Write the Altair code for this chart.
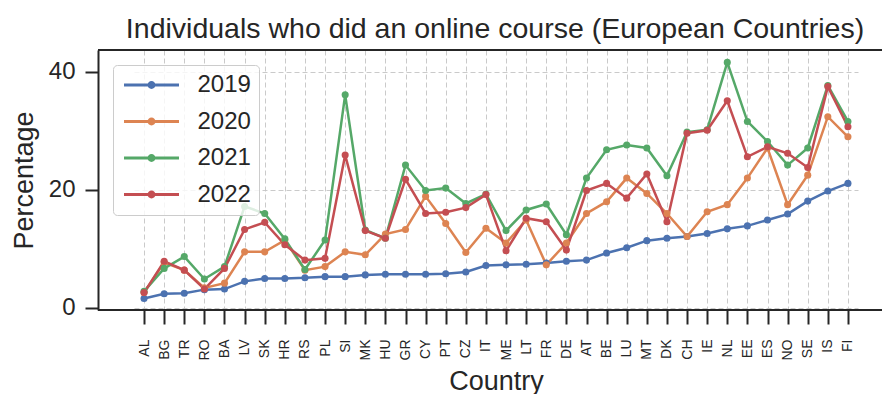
import altair as alt
import pandas as pd

countries = ["AL", "BG", "TR", "RO", "BA", "LV", "SK", "HR", "RS", "PL", "SI", "MK",
             "HU", "GR", "CY", "PT", "CZ", "IT", "ME", "LT", "FR", "DE", "AT", "BE",
             "LU", "MT", "DK", "CH", "IE", "NL", "EE", "ES", "NO", "SE", "IS", "FI"]
years = ["2019", "2020", "2021", "2022"]

v2019 = [1.6, 2.4, 2.5, 3.1, 3.2, 4.5, 5.0, 5.0, 5.1, 5.3, 5.3, 5.6,
         5.7, 5.7, 5.7, 5.8, 6.1, 7.2, 7.3, 7.4, 7.6, 7.9, 8.1, 9.3,
         10.2, 11.4, 11.8, 12.1, 12.6, 13.4, 13.9, 14.9, 15.9, 18.1, 19.8, 21.1]
v2020 = [2.6, 7.7, 6.4, 3.4, 4.2, 9.5, 9.5, 11.5, 6.4, 7.0, 9.5, 9.0,
         12.5, 13.3, 18.9, 14.3, 9.4, 13.5, 11.0, 14.9, 7.3, 11.0, 16.0, 18.0,
         22.0, 19.4, 16.0, 12.1, 16.3, 17.5, 22.0, 27.1, 17.5, 22.5, 32.4, 29.0]
v2021 = [2.8, 6.7, 8.7, 4.9, 7.0, 17.2, 16.0, 11.7, 6.5, 11.5, 36.1, 13.2,
         11.8, 24.2, 19.9, 20.3, 17.7, 19.3, 13.1, 16.6, 17.6, 12.4, 22.0, 26.8,
         27.6, 27.1, 22.4, 29.8, 30.2, 41.6, 31.6, 28.2, 24.2, 27.1, 37.7, 31.6]
v2022 = [2.6, 7.9, 6.4, 3.2, 6.7, 13.3, 14.5, 10.7, 8.1, 8.4, 25.9, 13.1,
         11.8, 21.8, 16.0, 16.2, 17.0, 19.2, 9.7, 15.2, 14.6, 9.8, 19.9, 21.1,
         18.6, 22.7, 14.6, 29.6, 30.1, 35.1, 25.6, 27.3, 26.2, 23.8, 37.5, 30.7]

rows = []
for yr, vals in zip(years, [v2019, v2020, v2021, v2022]):
    for c, v in zip(countries, vals):
        rows.append({"Country": c, "Year": yr, "Percentage": v})
df = pd.DataFrame(rows)

W, H = 784, 260
FONT = "Liberation Sans"
TXT = "#262626"
GRID = "#c4c4c4"
colors = ["#4c72b0", "#dd8452", "#55a868", "#c44e52"]

legend_path = "M-4,0L4,0M-0.36,0A0.36,0.36,0,1,1,0.36,0A0.36,0.36,0,1,1,-0.36,0Z"

lines = alt.Chart(df).mark_line(
    strokeWidth=2.5,
    point=alt.OverlayMarkDef(size=50, filled=True, opacity=1),
).encode(
    x=alt.X(
        "Country:N",
        sort=countries,
        scale=alt.Scale(type="point", range=[36, 760]),
        axis=alt.Axis(
            title="Country", titleFontSize=27, titlePadding=8,
            labelFontSize=14, labelAngle=270, labelPadding=15,
            tickSize=14, tickWidth=2, tickColor=TXT,
            domain=False, grid=True, gridDash=[5, 3], gridColor=GRID, gridWidth=0.9,
        ),
    ),
    y=alt.Y(
        "Percentage:Q",
        scale=alt.Scale(domain=[-0.35, 43.7], nice=False, zero=False),
        axis=alt.Axis(
            values=[0, 20, 40], title="Percentage", titleFontSize=27, titlePadding=10,
            labelFontSize=24, labelPadding=10,
            tickSize=13, tickWidth=2, tickColor=TXT,
            domain=True, domainColor=TXT, domainWidth=2,
            grid=True, gridDash=[5, 3], gridColor=GRID, gridWidth=0.9,
        ),
    ),
    color=alt.Color(
        "Year:N",
        title=None,
        scale=alt.Scale(domain=years, range=colors),
        legend=alt.Legend(
            orient="none", legendX=15, legendY=15,
            symbolType=legend_path, symbolSize=189, symbolStrokeWidth=3,
            symbolOffset=18.5, labelOffset=34,
            labelFontSize=24, labelFont=FONT, labelColor=TXT,
            padding=8, rowPadding=12.5,
            fillColor="rgba(255,255,255,0.8)", strokeColor="#cccccc", cornerRadius=4,
        ),
    ),
)

frame_data = alt.Data(values=[{"k": 0}])
top_rule = alt.Chart(frame_data).mark_rule(color=TXT, strokeWidth=2).encode(
    x=alt.value(0), x2=alt.value(W), y=alt.value(0)
)
bottom_rule = alt.Chart(frame_data).mark_rule(color=TXT, strokeWidth=2).encode(
    x=alt.value(0), x2=alt.value(W), y=alt.value(H)
)

chart = alt.layer(lines, top_rule, bottom_rule).properties(
    width=W,
    height=H,
    autosize=alt.AutoSizeParams(type="none"),
    padding={"left": 98, "top": 50, "right": 1, "bottom": 84},
    title=alt.TitleParams(
        text="Individuals who did an online course (European Countries)",
        fontSize=28.5, font=FONT, color=TXT, fontWeight="normal",
        anchor="middle", offset=12, baseline="alphabetic", dx=5, dy=29,
    ),
).configure_view(
    stroke=None
).configure_axis(
    labelFont=FONT, titleFont=FONT, labelColor=TXT, titleColor=TXT, titleFontWeight="normal"
)

chart.save("out.html", embed_options={"renderer": "svg", "actions": False})
